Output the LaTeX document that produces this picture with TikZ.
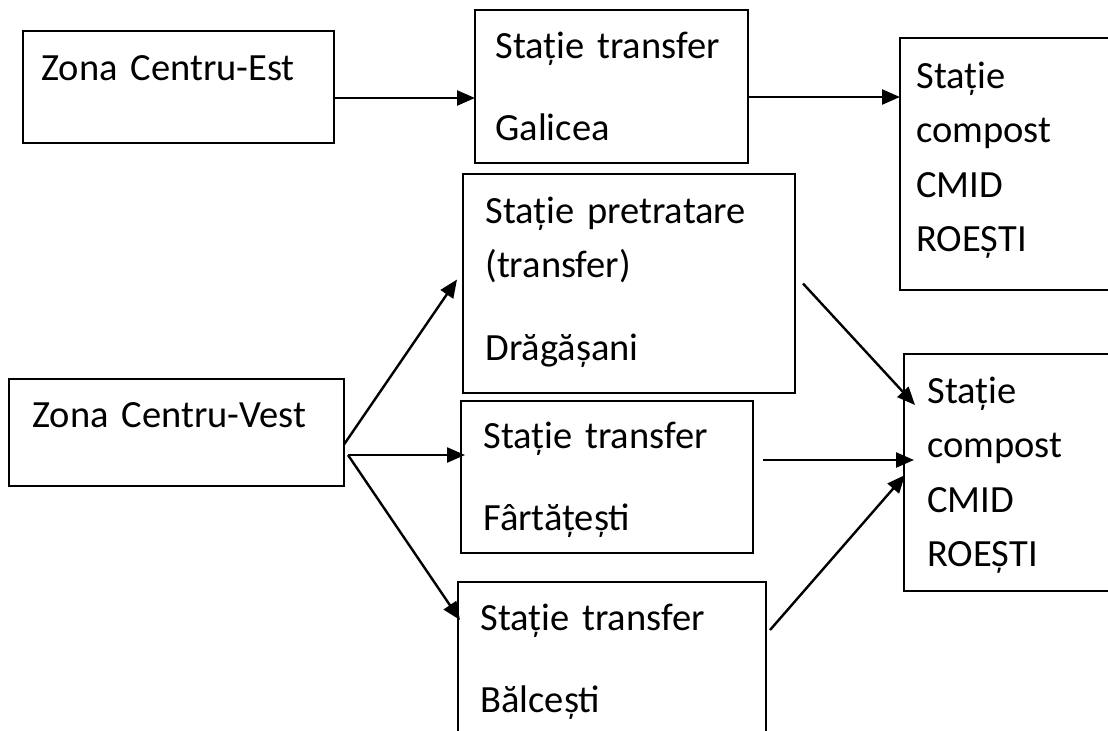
\documentclass[tikz,border=0pt]{standalone}
\usepackage{fontspec}
\setmainfont{Carlito}
\usetikzlibrary{arrows.meta}

\begin{document}
\begin{tikzpicture}[x=0.5pt, y=-0.5pt,
  box/.style={draw, line width=1.35pt, anchor=north west, inner sep=0pt, outer sep=0pt},
  txt/.style={anchor=base west, inner sep=0pt, align=left, text width=150pt,
              font=\fontsize{19.25pt}{27.25pt}\selectfont},
  arr/.style={line width=1.2pt, -{Triangle[length=9pt,width=7.5pt]}}]

\clip (0,0) rectangle (1108,730);
\fill[white] (0,0) rectangle (1108,730);

% boxes
\node[box, minimum width=155.5pt, minimum height=56pt]    (zce)  at (23,31)   {};
\node[box, minimum width=136.5pt, minimum height=76.5pt]  (gal)  at (475,10)  {};
\node[box, minimum width=106pt,   minimum height=126pt]   (roe1) at (900,38)  {};
\node[box, minimum width=166pt,   minimum height=109.5pt] (drg)  at (463,174) {};
\node[box, minimum width=167.5pt, minimum height=53.5pt]  (zcv)  at (9,379)   {};
\node[box, minimum width=146pt,   minimum height=76pt]    (frt)  at (461,401) {};
\node[box, minimum width=154pt,   minimum height=89pt]    (blc)  at (458,582) {};
\node[box, minimum width=104pt,   minimum height=118.5pt] (roe2) at (904,354) {};

% texts
\node[txt] (zcet)  at (41,80)   {Zona Centru-Est};
\node[txt] (galt)  at (495,58)  {Stație transfer\\[13.75pt]Galicea};
\node[txt] (roe1t) at (916,88)  {Stație\\compost\\CMID\\ROEȘTI};
\node[txt] (drgt)  at (485,223) {Stație pretratare\\(transfer)\\[14pt]Drăgășani};
\node[txt] (zcvt)  at (32,427)  {Zona Centru-Vest};
\node[txt] (frtt)  at (483,448) {Stație transfer\\[13.75pt]Fârtățești};
\node[txt] (blct)  at (480,630) {Stație transfer\\[14pt]Bălcești};
\node[txt] (roe2t) at (927,403) {Stație\\compost\\CMID\\ROEȘTI};

% arrows
\draw[arr] ([yshift=-5.5pt]zce.east) -- ([yshift=-5.5pt]zce.east -| gal.west);
\draw[arr] ([yshift=-5.25pt]gal.east) -- ([yshift=-5.25pt]gal.east -| roe1.west);
\draw[arr] ([yshift=-6pt]zcv.east) -- ([xshift=-3pt,yshift=2pt]drg.west);
\draw[arr] ([xshift=2pt,yshift=-11.25pt]zcv.east) -- ([xshift=2pt,yshift=-11.25pt]zcv.east -| frt.west);
\draw[arr] ([xshift=2pt,yshift=-11.25pt]zcv.east) -- ([xshift=1pt,yshift=-19pt]blc.north west);
\draw[arr] ([xshift=4pt]drg.east) -- ([xshift=5.5pt,yshift=-25.5pt]roe2.north west);
\draw[arr] ([xshift=5pt,yshift=8.5pt]frt.east) -- ([xshift=5pt,yshift=8.5pt]frt.east -| roe2.west);
\draw[arr] ([xshift=2pt,yshift=-24pt]blc.north east) -- ([xshift=0.5pt,yshift=-60.5pt]roe2.north west);

\end{tikzpicture}
\end{document}
